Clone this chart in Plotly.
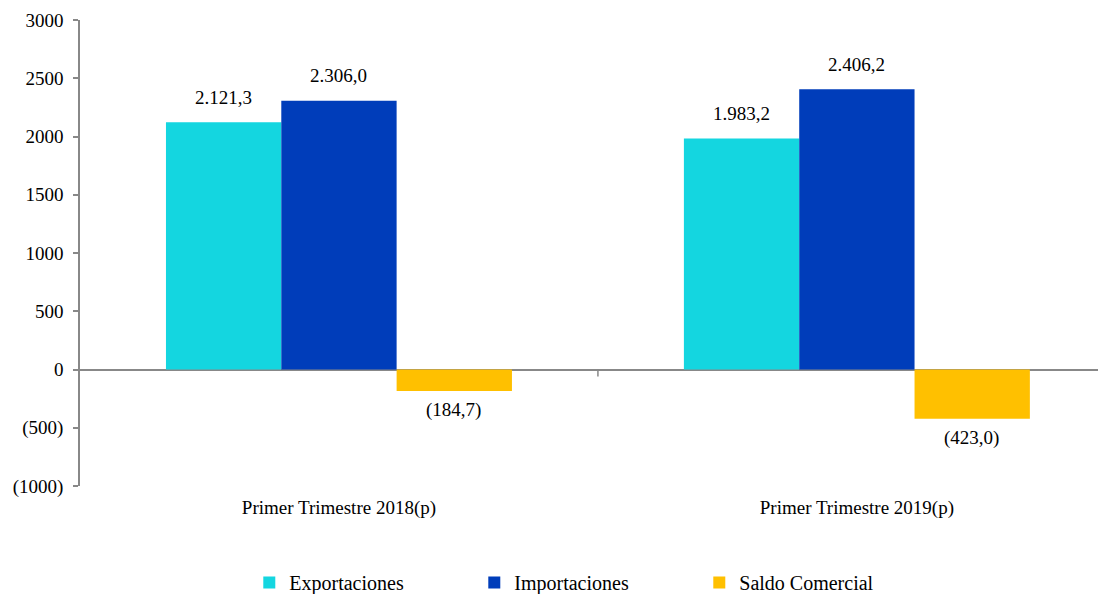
import plotly.graph_objects as go

categories = ["Primer Trimestre 2018(p)", "Primer Trimestre 2019(p)"]
series_names = ["Exportaciones", "Importaciones", "Saldo Comercial"]
exportaciones = [2121.3, 1983.2]
importaciones = [2306.0, 2406.2]
saldo = [-184.7, -423.0]
colors = ["#14D6E0", "#003DBA", "#FFC000"]
y_tickvals = [3000, 2500, 2000, 1500, 1000, 500, 0, -500, -1000]
y_ticktext = ["3000", "2500", "2000", "1500", "1000", "500", "0", "(500)", "(1000)"]


def fmt(v):
    s = f"{abs(v):,.1f}".replace(",", "X").replace(".", ",").replace("X", ".")
    return f"({s})" if v < 0 else s


FONT = "Liberation Serif, Times New Roman, DejaVu Serif, serif"
BAR_PX = 115
fig = go.Figure()
for i, (name, vals, col) in enumerate(zip(series_names, [exportaciones, importaciones, saldo], colors)):
    fig.add_trace(go.Bar(
        x=categories, y=vals, name=name,
        marker=dict(color=col, line=dict(width=0)),
    ))
    for cat, v in zip(categories, vals):
        fig.add_annotation(
            x=cat, y=v, xref="x", yref="y", text=fmt(v), showarrow=False,
            xshift=(i - 1) * BAR_PX, yshift=25 if v >= 0 else -19,
            yanchor="middle", font=dict(family=FONT, size=19, color="#000"),
        )

fig.add_shape(type="line", xref="x", yref="y", x0=0.5, x1=0.5, y0=0, y1=-60,
              line=dict(color="#888", width=1.5))

fig.update_layout(
    width=1098, height=586,
    margin=dict(l=72, r=0, t=12, b=108, autoexpand=False),
    paper_bgcolor="white", plot_bgcolor="white",
    barmode="group", bargap=0.332, bargroupgap=0,
    font=dict(family=FONT, size=19, color="#000"),
    showlegend=True,
    legend=dict(orientation="h", x=0.165, xanchor="left", y=-0.165, yanchor="top",
                font=dict(family=FONT, size=20), itemwidth=30,
                traceorder="normal", entrywidth=180),
)
fig.update_xaxes(range=[-0.5, 1.481], showline=False, ticks="", showgrid=False,
                 automargin=False,
                 tickfont=dict(family=FONT, size=19), ticklabelstandoff=8)
fig.update_yaxes(range=[-1000, 3000], tickvals=y_tickvals, ticktext=y_ticktext,
                 showgrid=False, showline=True, linecolor="#888", linewidth=1.5,
                 ticks="outside", ticklen=5, tickcolor="#888", tickwidth=1.5,
                 zeroline=True, zerolinecolor="#888", zerolinewidth=1.5,
                 automargin=False,
                 tickfont=dict(family=FONT, size=19), ticklabelstandoff=6)

fig.write_html("out.html")
